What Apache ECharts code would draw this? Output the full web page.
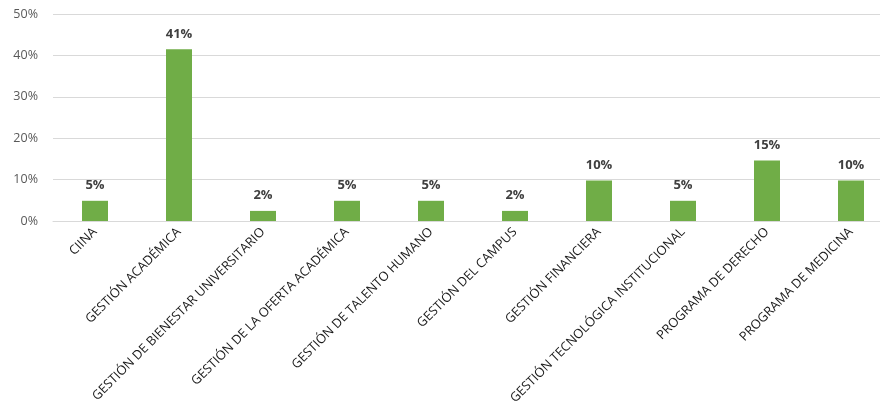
<!DOCTYPE html>
<html><head><meta charset="utf-8">
<script src="https://cdn.jsdelivr.net/npm/echarts@6/dist/echarts.min.js"></script>
<style>html,body{margin:0;padding:0;background:#fff;overflow:hidden;width:880px;height:417px}#c{width:900px;height:417px}</style>
</head><body><div id="c"></div>
<script>
const categories = ['CIINA','GESTIÓN ACADÉMICA','GESTIÓN DE BIENESTAR UNIVERSITARIO','GESTIÓN DE LA OFERTA ACADÉMICA','GESTIÓN DE TALENTO HUMANO','GESTIÓN DEL CAMPUS','GESTIÓN FINANCIERA','GESTIÓN TECNOLÓGICA INSTITUCIONAL','PROGRAMA DE DERECHO','PROGRAMA DE MEDICINA'];
const values = [4.88, 41.46, 2.44, 4.88, 4.88, 2.44, 9.76, 4.88, 14.63, 9.76];
const yTicks = [0, 10, 20, 30, 40, 50];

const chart = echarts.init(document.getElementById('c'), null, {renderer: 'canvas'});
chart.setOption({
  animation: false,
  backgroundColor: '#ffffff',
  grid: {left: 53, top: 14, right: 7, bottom: 196, containLabel: false},
  xAxis: {
    type: 'category', data: categories,
    axisLine: {lineStyle: {color: '#d9d9d9', width: 1}},
    axisTick: {show: false},
    axisLabel: {interval: 0, rotate: 45, color: '#1a1a1a', fontFamily: 'Open Sans', fontSize: 12.8, margin: 9}
  },
  yAxis: {
    type: 'value', min: yTicks[0], max: yTicks[yTicks.length-1], interval: 10,
    axisLine: {show: false}, axisTick: {show: false},
    splitLine: {lineStyle: {color: '#d9d9d9', width: 1}},
    axisLabel: {formatter: v => v + '%', color: '#595959', fontFamily: 'Open Sans', fontSize: 12.5, margin: 15}
  },
  series: [{
    type: 'bar', data: values, barWidth: 26,
    itemStyle: {color: '#70ad47'},
    label: {show: true, position: 'top', distance: 9, formatter: p => Math.round(p.value) + '%', color: '#404040', fontWeight: 'bold', fontFamily: 'Open Sans', fontSize: 13}
  }]
});
</script></body></html>
